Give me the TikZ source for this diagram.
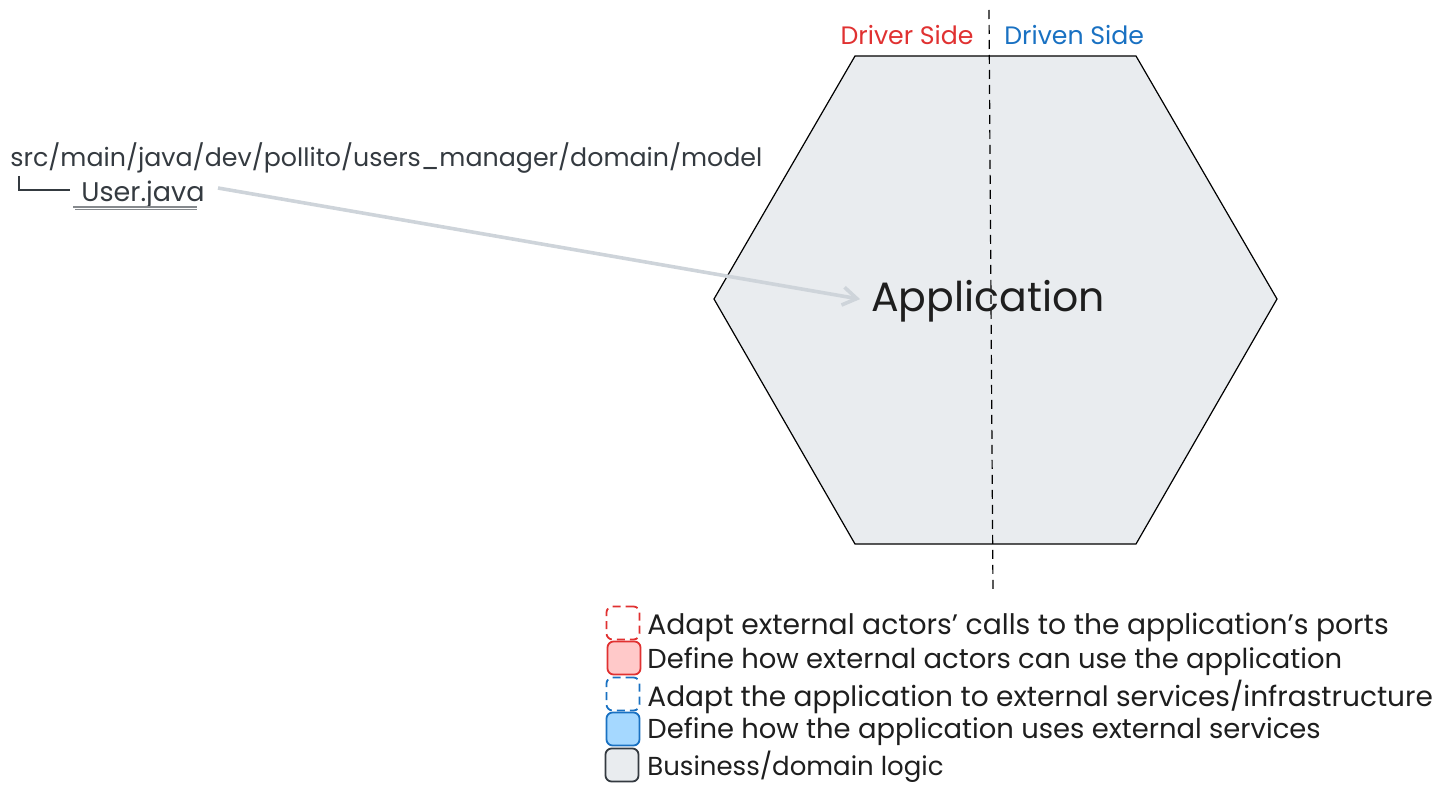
\documentclass[tikz,border=0pt]{standalone}
\usepackage{fontspec}
\setmainfont{Poppins}
\usetikzlibrary{positioning,arrows.meta}
\definecolor{inkdark}{HTML}{1E1E1E}
\definecolor{inkpath}{HTML}{343A40}
\definecolor{inkred}{HTML}{E03131}
\definecolor{inkblue}{HTML}{1971C2}
\definecolor{fillred}{HTML}{FFC9C9}
\definecolor{fillblue}{HTML}{A5D8FF}
\definecolor{fillgray}{HTML}{E9ECEF}
\definecolor{arrowgray}{HTML}{CED4DA}
\begin{document}
\begin{tikzpicture}[x=0.5pt,y=-0.5pt,
pathtext/.style={inner sep=0pt,text=inkpath,font=\fontsize{12.65}{15}\selectfont},
sidetext/.style={inner sep=0pt,font=\fontsize{12.6}{14}\selectfont},
keytext/.style={inner sep=0pt,text=inkdark,font=\fontsize{14}{15}\selectfont},
keybox/.style={draw,rectangle,rounded corners=3pt,minimum width=16.5pt,minimum height=16.5pt,inner sep=0pt,line width=0.9pt},
keydash/.style={keybox,dash pattern=on 4pt off 2.5pt}]

\useasboundingbox (0,0) rectangle (1441,792);

\draw[fill=fillgray,draw=black,line width=0.6pt] (855,56) coordinate (hexa) -- (1136,56) -- (1277,299) -- (1136,544) -- (855,544) -- (714,299) -- cycle;

\coordinate (top) at (989,10);
\coordinate (bottom) at (993,593);
\draw[dash pattern=on 4.5pt off 3pt,line width=0.6pt] (top) -- (bottom);

\draw (10,158) node[pathtext,anchor=west] (folder) {src/main/java/dev/pollito/users\_manager/domain/model};
\draw (81,195) node[pathtext,anchor=west,font=\fontsize{13.5}{15}\selectfont] (user) {User.java};
\draw (988,301) node[inner sep=0pt,text=inkdark,font=\fontsize{20.5}{28}\selectfont] (app) {Application};
\draw (974,35) node[sidetext,anchor=east,text=inkred] (driver) {Driver Side};
\draw (1004,35) node[sidetext,anchor=west,text=inkblue] (driven) {Driven Side};

\coordinate (elbow) at (19,176);
\draw[inkpath,line width=0.8pt] (elbow) -- ++(0,14) -- ++(51,0);
\draw[inkpath!60,line width=0.6pt] (73,207) -- (197,207);
\draw[inkpath!60,line width=0.6pt] (75,209.5) -- (197,209.5);
\draw[-{Straight Barb[length=7pt,width=9pt]},arrowgray,line width=1.8pt,shorten >=5.5pt] (218,188) -- (app.west);

\draw (623,623) node[keydash,draw=inkred] (adaptin) {};
\draw (624,658) node[keybox,draw=inkred,fill=fillred] (portin) {};
\draw (623,694) node[keydash,draw=inkblue] (adaptout) {};
\draw (623,729) node[keybox,draw=inkblue,fill=fillblue] (portout) {};
\draw (622,765) node[keybox,draw=inkpath,fill=fillgray] (domain) {};

\draw (647,627) node[keytext,anchor=west,font=\fontsize{14.1}{15}\selectfont] (adaptintext) {Adapt external actors' calls to the application's ports};
\draw (647,662) node[keytext,anchor=west,font=\fontsize{13.7}{15}\selectfont] (portintext) {Define how external actors can use the application};
\draw (647,697) node[keytext,anchor=west] (adaptouttext) {Adapt the application to external services/infrastructure};
\draw (647,732) node[keytext,anchor=west,font=\fontsize{13.7}{15}\selectfont] (portouttext) {Define how the application uses external services};
\draw (647,767) node[keytext,anchor=west,font=\fontsize{13}{15}\selectfont] (domaintext) {Business/domain logic};

\end{tikzpicture}
\end{document}
